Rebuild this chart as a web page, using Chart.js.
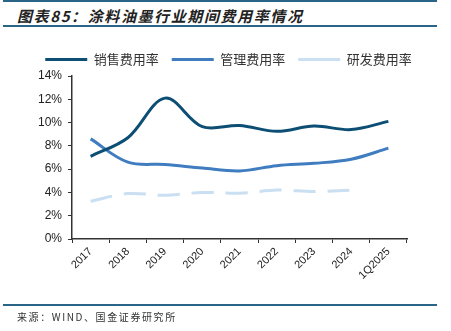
<!DOCTYPE html>
<html>
<head>
<meta charset="utf-8">
<script src="https://cdn.jsdelivr.net/npm/chart.js@4"></script>
<style>
  body { margin: 0; background: #fff; }
  #wrap { position: relative; width: 451px; height: 331px; overflow: hidden; }
  #chartBox { position: absolute; left: 0; top: 0; width: 451px; height: 331px; }
  .rule { position: absolute; left: 3px; width: 434px; height: 2px; background: #2a6487; }
  #title { position: absolute; left: 17px; top: 5px; font: italic bold 15px "Noto Sans CJK SC", sans-serif; color: #222; letter-spacing: 1.6px; }
  #source { position: absolute; left: 17px; top: 309px; font: 10px "Noto Sans CJK SC", sans-serif; color: #333; letter-spacing: 1.6px; }
</style>
</head>
<body>
<div id="wrap">
  <div class="rule" style="top:0px"></div>
  <div id="title">图表85：涂料油墨行业期间费用率情况</div>
  <div class="rule" style="top:25px"></div>
  <div id="chartBox"><canvas id="lineChart"></canvas></div>
  <div class="rule" style="top:304px"></div>
  <div id="source">来源：WIND、国金证券研究所</div>
</div>
<script>
// Categories and series (percent)
const years = ['2017', '2018', '2019', '2020', '2021', '2022', '2023', '2024', '1Q2025'];
const salesRate = [7.1, 8.7, 12.1, 9.65, 9.75, 9.25, 9.7, 9.4, 10.1];
const adminRate = [8.6, 6.6, 6.4, 6.1, 5.85, 6.3, 6.5, 6.85, 7.8];
const rndRate = [3.25, 3.9, 3.75, 4.0, 3.93, 4.2, 4.07, 4.2, null];
const yTicks = [0, 2, 4, 6, 8, 10, 12, 14];

// Nudge the legend to the right so it sits centred like in the reference
const legendShift = {
    id: 'legendShift',
    afterLayout: function (chart) {
        if (chart.legend) {
            chart.legend.left += 25;
            chart.legend.right += 25;
        }
    }
};

const ctx = document.getElementById('lineChart').getContext('2d');

new Chart(ctx, {
    type: 'line',
    data: {
        labels: years,
        datasets: [
            {
                label: '销售费用率',
                data: salesRate,
                borderColor: '#0c4e74',
                backgroundColor: '#0c4e74',
                borderWidth: 3,
                tension: 0.35,
                pointRadius: 0,
                fill: false
            },
            {
                label: '管理费用率',
                data: adminRate,
                borderColor: '#3f7dc0',
                backgroundColor: '#3f7dc0',
                borderWidth: 3,
                tension: 0.35,
                pointRadius: 0,
                fill: false
            },
            {
                label: '研发费用率',
                data: rndRate,
                borderColor: '#cadff1',
                backgroundColor: '#cadff1',
                borderWidth: 3,
                borderDash: [22, 12],
                tension: 0.35,
                pointRadius: 0,
                fill: false
            }
        ]
    },
    options: {
        responsive: true,
        maintainAspectRatio: false,
        animation: false,
        layout: { padding: { top: 40, right: 44, left: 0, bottom: 0 } },
        plugins: {
            legend: {
                labels: {
                    usePointStyle: true,
                    pointStyle: 'line',
                    pointStyleWidth: 42,
                    boxWidth: 42,
                    padding: 13,
                    color: '#333',
                    font: { family: '"Noto Sans CJK SC", sans-serif', size: 13 }
                }
            },
            tooltip: { enabled: false }
        },
        scales: {
            x: {
                offset: true,
                afterFit: function (scale) { scale.height = 92; },
                grid: { offset: true, drawOnChartArea: false, tickLength: 4, color: '#333', lineWidth: 1 },
                border: { color: '#333', width: 1.5 },
                ticks: {
                    maxRotation: 45,
                    minRotation: 45,
                    color: '#222',
                    padding: 2,
                    font: { family: '"Liberation Sans", Arial, sans-serif', size: 11 }
                }
            },
            y: {
                min: 0,
                max: 14,
                afterFit: function (scale) { scale.width = 72; },
                afterBuildTicks: function (scale) {
                    scale.ticks = yTicks.map(v => ({ value: v }));
                },
                grid: { drawOnChartArea: false, tickLength: 4, color: '#333' },
                border: { color: '#333', width: 1.5 },
                ticks: {
                    color: '#222',
                    padding: 6,
                    font: { family: '"Liberation Sans", Arial, sans-serif', size: 12 },
                    callback: function (value) { return value + '%'; }
                }
            }
        }
    },
    plugins: [legendShift]
});
</script>
</body>
</html>
